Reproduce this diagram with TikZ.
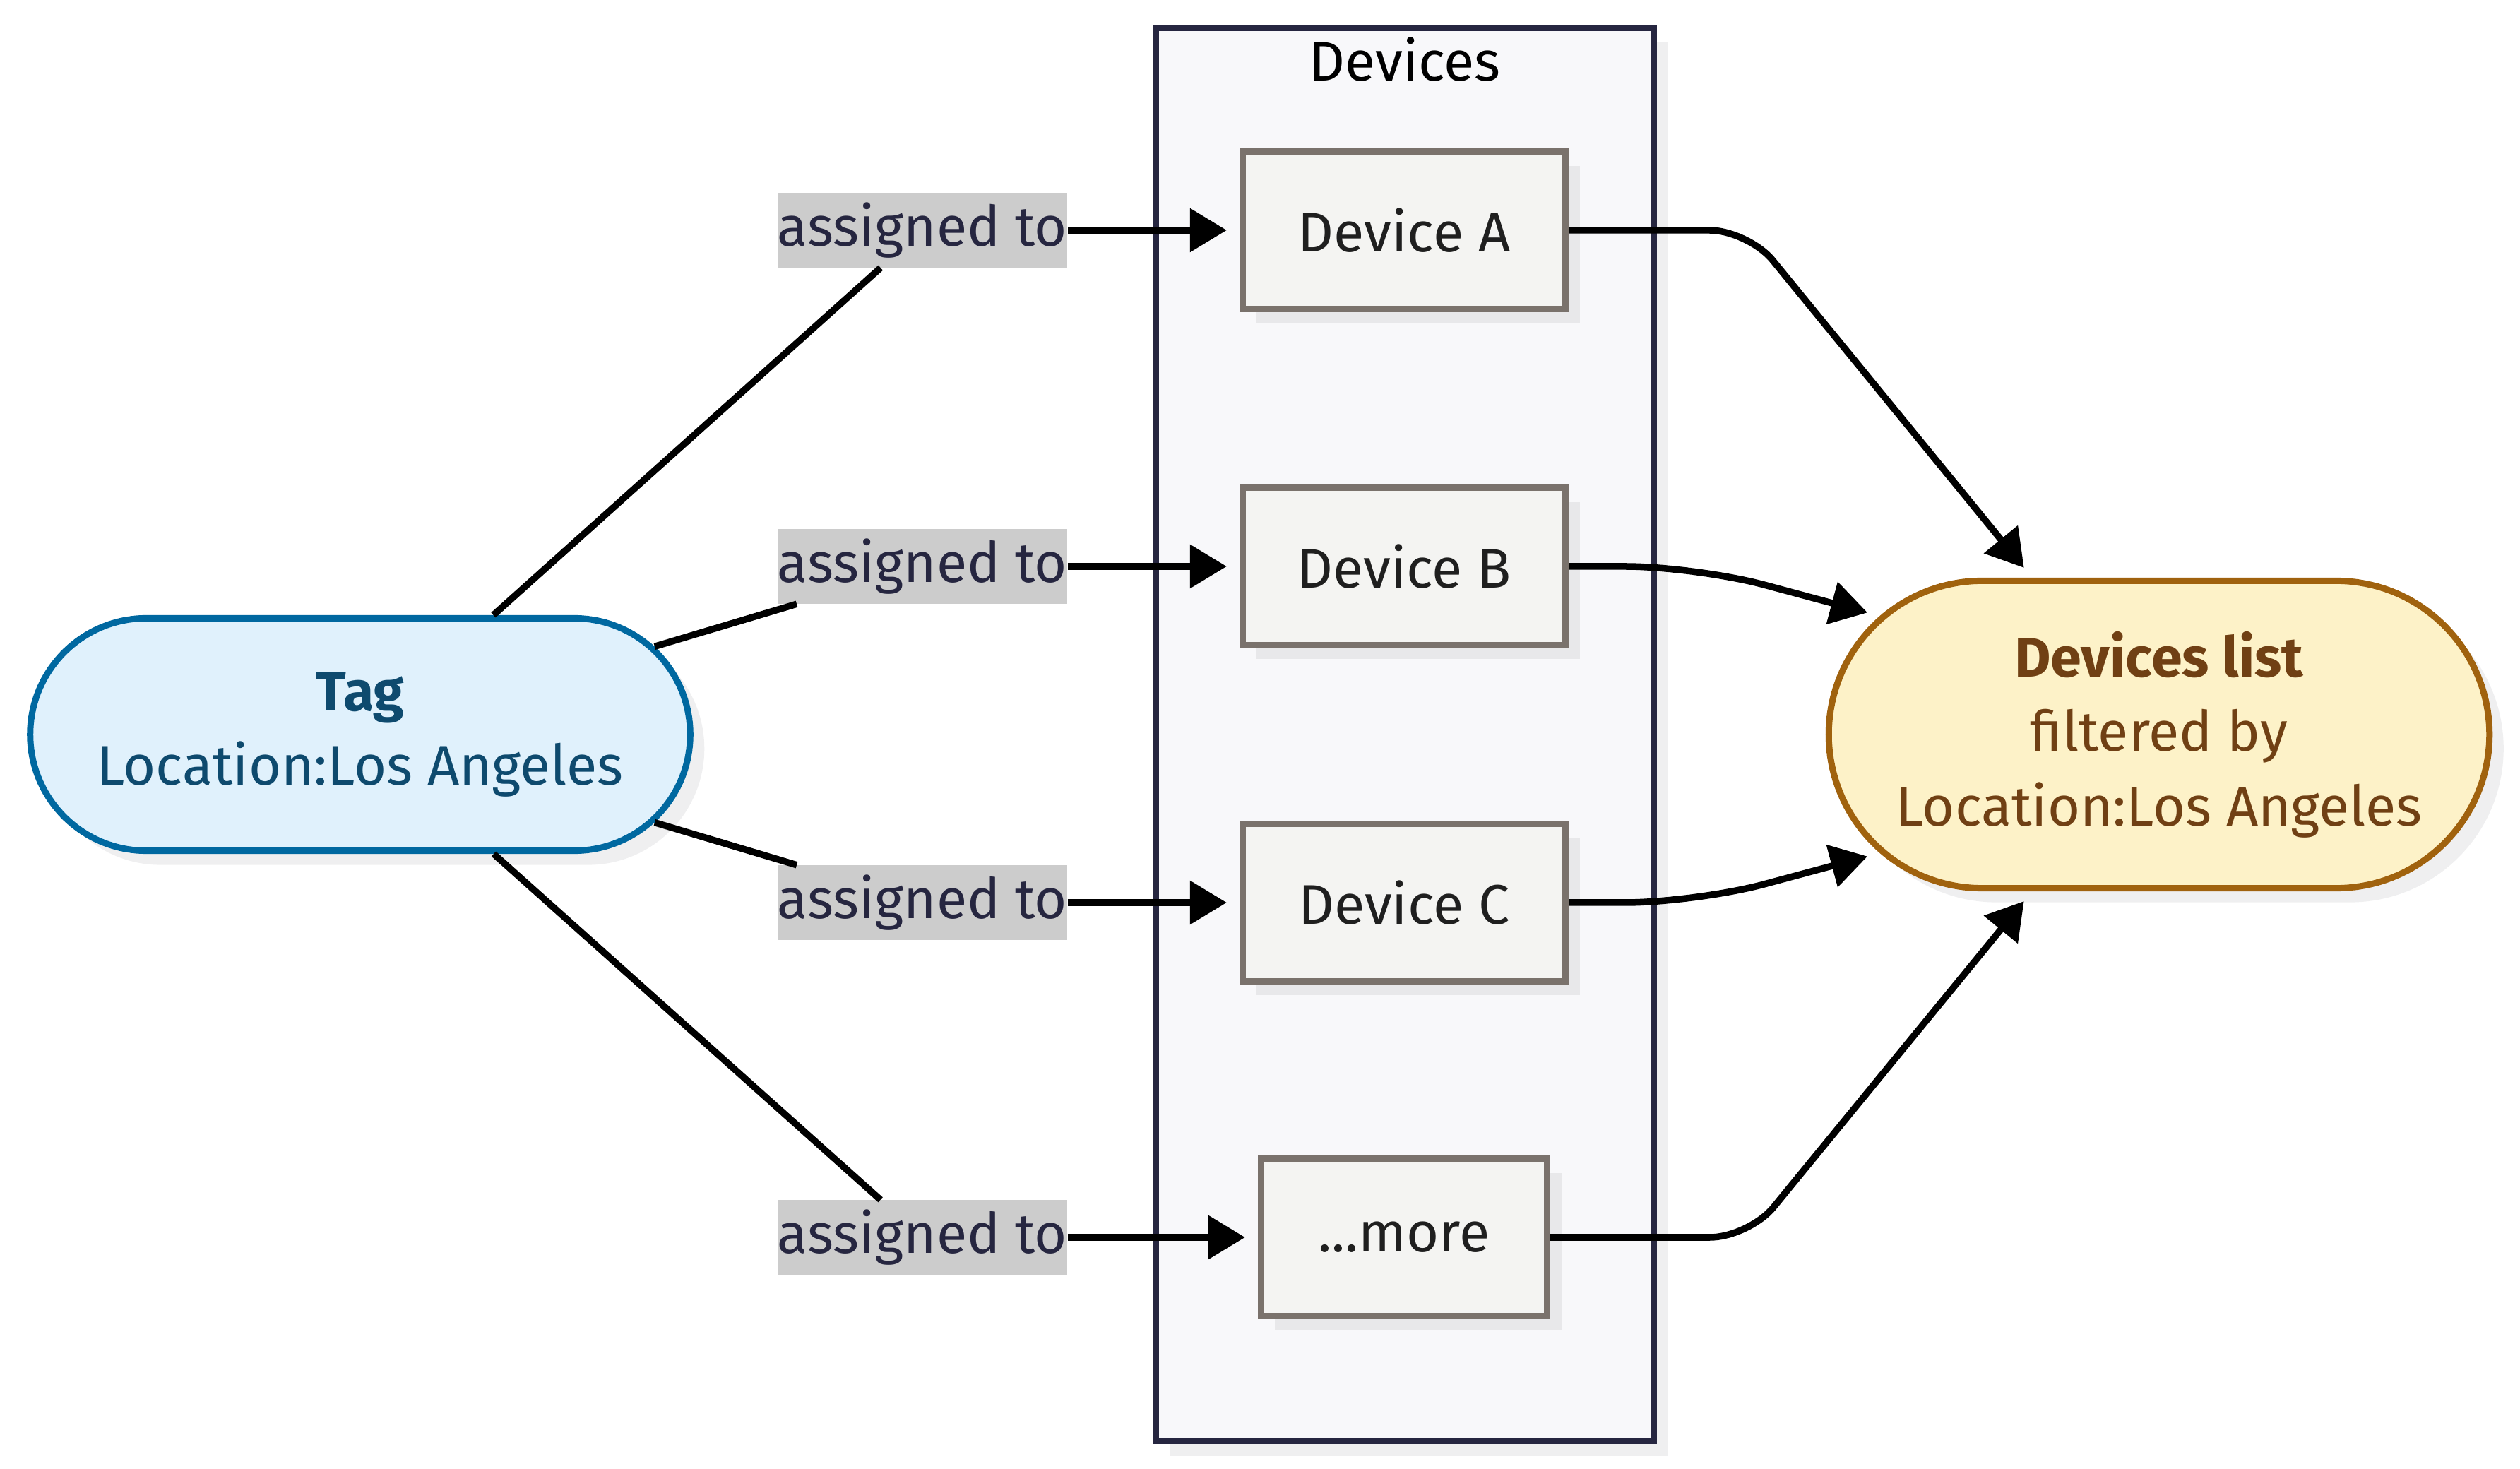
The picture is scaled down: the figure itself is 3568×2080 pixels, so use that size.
\documentclass[tikz,border=0pt]{standalone}
\usepackage{fontspec}
\setmainfont{Fira Sans}
\usetikzlibrary{arrows.meta,shapes.misc,shadows}

\definecolor{tagfill}{RGB}{224,241,252}
\definecolor{tagline}{RGB}{0,104,160}
\definecolor{tagtext}{RGB}{14,74,110}
\definecolor{listfill}{RGB}{253,242,200}
\definecolor{listline}{RGB}{160,98,14}
\definecolor{listtext}{RGB}{112,64,20}
\definecolor{groupfill}{RGB}{248,248,250}
\definecolor{groupline}{RGB}{38,38,64}
\definecolor{devfill}{RGB}{244,244,242}
\definecolor{devline}{RGB}{122,114,108}
\definecolor{labelfill}{RGB}{204,204,204}
\definecolor{labeltext}{RGB}{38,38,64}
\definecolor{shade}{RGB}{239,239,240}
\definecolor{devshade}{RGB}{232,232,234}

\tikzset{
  shade/.style={drop shadow={shadow xshift=0.2cm, shadow yshift=-0.2cm, fill=#1, opacity=1}},
  lbl/.style={fill=labelfill, text=labeltext, inner sep=0pt, minimum width=4.1cm, minimum height=1.05cm, text height=0.7cm, text depth=0.25cm},
  device/.style={draw=devline, fill=devfill, line width=0.09cm, minimum width=4.57cm, minimum height=2.22cm, text=black!88, shade=devshade},
  pill/.style={rounded rectangle, line width=0.09cm, inner sep=0pt, align=center, shade=shade},
  link/.style={line width=0.095cm},
  arrow/.style={link, -{Triangle[length=0.52cm,width=0.6cm]}, shorten >=0.18cm},
}

\begin{document}
\begin{tikzpicture}[x=0.01cm, y=-0.01cm, font=\fontsize{22.5}{30}\selectfont]
  \useasboundingbox (0,0) rectangle (3568,2080);

  % Group
  \node[draw=groupline, fill=groupfill, line width=0.09cm, minimum width=7.04cm, minimum height=20cm, shade=shade] (group) at (1989,1040) {};
  \node[anchor=base] (grouptitle) at (1989,115) {Devices};

  % Nodes
  \node[pill, draw=tagline, fill=tagfill, text=tagtext, minimum width=9.34cm, minimum height=3.29cm] (tag) at (510,1040) {\textbf{Tag}\\Location:Los Angeles};
  \node[pill, draw=listline, fill=listfill, text=listtext, minimum width=9.35cm, minimum height=4.35cm] (list) at (3057,1040) {\textbf{Devices list}\\filtered by\\Location:Los Angeles};

  \node[device] (devA) at (1988,326) {Device A};
  \node[device] (devB) at (1988,802) {Device B};
  \node[device] (devC) at (1988,1278) {Device C};
  \node[device, minimum width=4.05cm] (more) at (1988,1752) {...more};

  \node[lbl] (lab1) at (1306,326) {assigned to};
  \node[lbl] (lab2) at (1306,802) {assigned to};
  \node[lbl] (lab3) at (1306,1278) {assigned to};
  \node[lbl] (lab4) at (1306,1752) {assigned to};

  % Edges
  \draw[link] (tag) -- (lab1);
  \draw[link] (tag) -- (lab2);
  \draw[link] (tag) -- (lab3);
  \draw[link] (tag) -- (lab4);
  \draw[arrow] (lab1) -- (devA);
  \draw[arrow] (lab2) -- (devB);
  \draw[arrow] (lab3) -- (devC);
  \draw[arrow] (lab4) -- (more);

  \draw[arrow, rounded corners=0.55cm] (devA.east) -- ++(254,0) -- (list.129);
  \draw[arrow, rounded corners=1cm] (devB.east) -- ++(180,0) -- (list.157);
  \draw[arrow, rounded corners=1cm] (devC.east) -- ++(180,0) -- (list.203);
  \draw[arrow, rounded corners=0.55cm] (more.east) -- ++(281,0) -- (list.231);
\end{tikzpicture}
\end{document}
